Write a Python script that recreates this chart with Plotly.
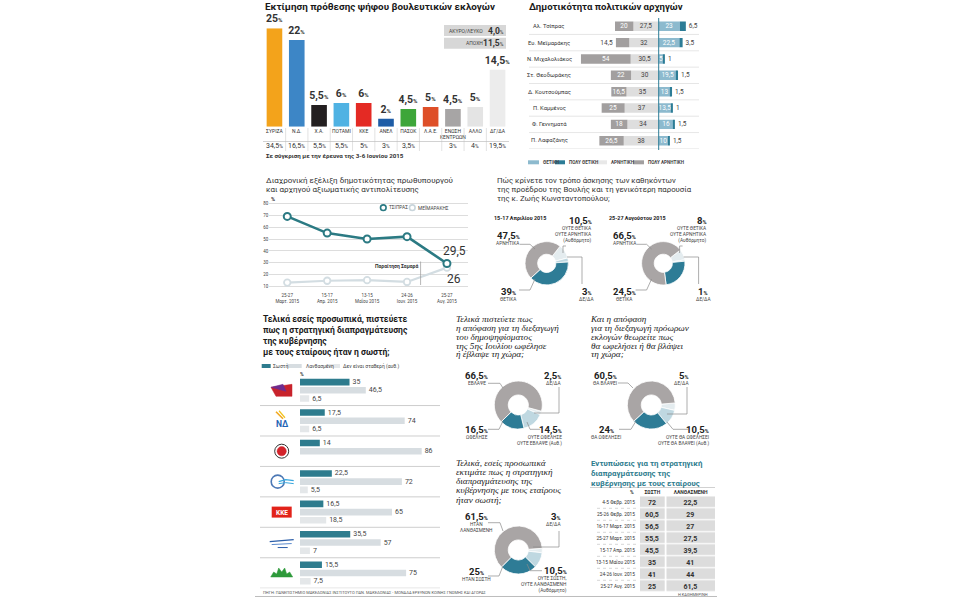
import plotly.graph_objects as go

W, H = 958, 598
def X(p): return p / W
def Y(p): return 1 - p / H

SANS = "Roboto, 'Liberation Sans', sans-serif"
SERIF = "'Liberation Serif', 'DejaVu Serif', serif"

# ---------------- DATA ----------------
vote_parties = ['ΣΥΡΙΖΑ', 'Ν.Δ.', 'Χ.Α.', 'ΠΟΤΑΜΙ', 'ΚΚΕ', 'ΑΝΕΛ', 'ΠΑΣΟΚ', 'Λ.Α.Ε.',
                'ΕΝΩΣΗ<br>ΚΕΝΤΡΩΩΝ', 'ΑΛΛΟ', 'ΔΓ/ΔΑ']
vote_now = [25, 22, 5.5, 6, 6, 2, 4.5, 5, 4.5, 5, 14.5]
vote_june = [34.5, 16.5, 5.5, 5.5, 5, 3, 3.5, None, 3, 4, 19.5]
box_labels = ['ΑΚΥΡΟ/ΛΕΥΚΟ', 'ΑΠΟΧΗ']
box_values = [4.0, 11.5]

leaders = ['Αλ. Τσίπρας', 'Ευ. Μεϊμαράκης', 'Ν. Μιχαλολιάκος', 'Στ. Θεοδωράκης',
           'Δ. Κουτσούμπας', 'Π. Καμμένος', 'Φ. Γεννηματά', 'Π. Λαφαζάνης']
lead_very_neg = [20, 14.5, 54, 22, 16.5, 25, 18, 26.5]
lead_neg = [27.5, 32, 30.5, 30, 35, 37, 34, 38]
lead_pos = [23, 22.5, 5, 19.5, 13, 13.5, 16, 10]
lead_very_pos = [6.5, 3.5, 1, 1.5, 1.5, 1, 1.5, 1.5]
lead_series = ['ΘΕΤΙΚΗ', 'ΠΟΛΥ ΘΕΤΙΚΗ', 'ΑΡΝΗΤΙΚΗ', 'ΠΟΛΥ ΑΡΝΗΤΙΚΗ']

trend_dates = ['25-27<br>Μαρτ. 2015', '15-17<br>Απρ. 2015', '13-15<br>Μαΐου 2015',
               '24-26<br>Ιουν. 2015', '25-27<br>Αυγ. 2015']
trend_tsipras = [69, 55, 50, 52, 29.5]
trend_meimarakis = [13.5, 15, 15.5, 14, 26]
trend_names = ['ΤΣΙΠΡΑΣ', 'ΜΕΪΜΑΡΑΚΗΣ']

zk_labels = ['ΟΥΤΕ ΘΕΤΙΚΑ<br>ΟΥΤΕ ΑΡΝΗΤΙΚΑ<br>(Αυθόρμητο)', 'ΔΕ/ΔΑ', 'ΘΕΤΙΚΑ', 'ΑΡΝΗΤΙΚΑ']
zk_april = [10.5, 3, 39, 47.5]
zk_august = [8, 1, 24.5, 66.5]

strat_parties = ['ΣΥΡΙΖΑ', 'ΝΔ', 'Χ.Α.', 'ΠΟΤΑΜΙ', 'ΚΚΕ', 'ΑΝΕΛ', 'ΠΑΣΟΚ']
strat_series = ['Σωστή', 'Λανθασμένη', 'Δεν είναι σταθερή (αυθ.)']
strat_right = [35, 17.5, 14, 22.5, 16.5, 35.5, 15.5]
strat_wrong = [46.5, 74, 86, 72, 65, 57, 75]
strat_unclear = [6.5, 6.5, None, 5.5, 18.5, 7, 7.5]

ref_labels = ['ΔΕ/ΔΑ', 'ΟΥΤΕ ΩΦΕΛΗΣΕ<br>ΟΥΤΕ ΕΒΛΑΨΕ (Αυθ.)', 'ΩΦΕΛΗΣΕ', 'ΕΒΛΑΨΕ']
ref_values = [2.5, 14.5, 16.5, 66.5]
elec_labels = ['ΔΕ/ΔΑ', 'ΟΥΤΕ ΘΑ ΩΦΕΛΗΣΕΙ<br>ΟΥΤΕ ΘΑ ΒΛΑΨΕΙ (Αυθ.)', 'ΘΑ ΩΦΕΛΗΣΕΙ', 'ΘΑ ΒΛΑΨΕΙ']
elec_values = [5, 10.5, 24, 60.5]
negot_labels = ['ΔΕ/ΔΑ', 'ΟΥΤΕ ΣΩΣΤΗ,<br>ΟΥΤΕ ΛΑΝΘΑΣΜΕΝΗ<br>(Αυθόρμητο)', 'ΗΤΑΝ ΣΩΣΤΗ', 'ΗΤΑΝ<br>ΛΑΝΘΑΣΜΕΝΗ']
negot_values = [3, 10.5, 25, 61.5]

table_header = ['%', 'ΣΩΣΤΗ', 'ΛΑΝΘΑΣΜΕΝΗ']
table_dates = ['4-5 Φεβρ. 2015', '25-26 Φεβρ. 2015', '16-17 Μαρτ. 2015', '25-27 Μαρτ. 2015',
               '15-17 Απρ. 2015', '13-15 Μαΐου 2015', '24-26 Ιουν. 2015', '25-27 Αυγ. 2015']
table_right = [72, 60.5, 56.5, 55.5, 45.5, 35, 41, 25]
table_wrong = [22.5, 29, 27, 27.5, 39.5, 41, 44, 61.5]

# ---------------- STYLE ----------------
vote_colors = ['#F3A31B', '#3D86C6', '#231F20', '#4FB2E3', '#E42A24', '#1E5DA6',
               '#3DA639', '#DE4F28', '#A7A5A5', '#E4E4E4', '#ECECEC']
C_POS, C_VPOS, C_NEG, C_VNEG = '#8DBACE', '#2C7C96', '#DEDEDE', '#A29F9F'
TEAL = '#2E7C8E'
PIE_COLORS = ['#E4ECEF', '#BFD8E1', '#2E7C96', '#A9A5A5']   # ΔΕ, ούτε, θετ, αρνητ

def fmt(v):
    return ('%g' % v).replace('.', ',')

def pct(v, small=6):
    return f'<b>{fmt(v)}<span style="font-size:{small}px">%</span></b>'

annotations, shapes = [], []

def txt(x, y, s, size=7, color='#333', anchor='left', yanchor='middle', family=SANS,
        xref='paper', yref='paper'):
    annotations.append(dict(
        x=X(x) if xref == 'paper' else x, y=Y(y) if yref == 'paper' else y,
        xref=xref, yref=yref, text=s, showarrow=False, xanchor=anchor, yanchor=yanchor,
        align=anchor if anchor in ('left', 'right') else 'center',
        font=dict(size=size, color=color, family=family), borderpad=0))

def block(x, y_first, lines, glyph, spacing, color='#222', family=SANS, bold=False,
          italic=False, anchor='left'):
    """Multi-line text with tight line spacing (line height comes from the base size)."""
    parts = []
    for l in lines:
        if bold:
            l = f'<b>{l}</b>'
        if italic:
            l = f'<i>{l}</i>'
        parts.append(f'<span style="font-size:{glyph}px">{l}</span>')
    yc = y_first + spacing * (len(lines) - 1) / 2
    txt(x, yc, '<br>'.join(parts), size=spacing / 1.3, color=color, anchor=anchor, family=family)

def pline(pts, color='#8A8A8A', width=0.7, dash=None):
    path = 'M ' + ' L '.join(f'{X(a):.5f},{Y(b):.5f}' for a, b in pts)
    shapes.append(dict(type='path', path=path, xref='paper', yref='paper',
                       line=dict(color=color, width=width, dash=dash)))

def rect(x0, y0, x1, y1, fill, lc=None, lw=0):
    shapes.append(dict(type='rect', xref='paper', yref='paper', x0=X(x0), x1=X(x1),
                       y0=Y(y1), y1=Y(y0), fillcolor=fill,
                       line=dict(width=lw, color=lc or fill)))

def circ(cx, cy, r, fill, lc, lw):
    shapes.append(dict(type='circle', xref='paper', yref='paper', x0=X(cx - r), x1=X(cx + r),
                       y0=Y(cy + r), y1=Y(cy - r), fillcolor=fill,
                       line=dict(color=lc, width=lw)))

fig = go.Figure()

# =============== 1. Vote intention bars ===============
fig.add_trace(go.Bar(
    x=vote_parties, y=vote_now, marker=dict(color=vote_colors, line=dict(width=0)),
    width=0.7, text=[pct(v, 6) for v in vote_now], textposition='outside',
    textfont=dict(size=10.5, color='#333', family=SANS), cliponaxis=False,
    constraintext='none', xaxis='x', yaxis='y', showlegend=False, hoverinfo='x+y'))
txt(264, 6.5, '<b>Εκτίμηση πρόθεσης ψήφου βουλευτικών εκλογών</b>', size=9.9, color='#1a1a1a')
for i, (lab, val) in enumerate(zip(box_labels, box_values)):
    y0 = 25 + i * 12.7
    rect(444, y0, 506, y0 + 11, '#D7D7D7')
    txt(484, y0 + 5.5, lab, size=5, color='#444', anchor='right')
    txt(505, y0 + 5.5, f'<b>{("%.1f" % val).replace(".", ",")}</b><span style="font-size:5px">%</span>',
        size=8.5, color='#333', anchor='right')
for i, v in enumerate(vote_june):
    if v is not None:
        txt(vote_parties[i], 146, f'{fmt(v)}<span style="font-size:5px">%</span>', size=7,
            color='#333', anchor='center', xref='x')
for i in range(len(vote_parties) - 1):
    shapes.append(dict(type='line', xref='x', yref='paper', x0=i + 0.5, x1=i + 0.5,
                       y0=Y(151), y1=Y(128), line=dict(color='#CFCFCF', width=0.6)))
pline([(263, 141.5), (509, 141.5)], color='#BDBDBD', width=0.7)
txt(265, 155.5, '<b>Σε σύγκριση με την έρευνα της 3-6 Ιουνίου 2015</b>', size=6.2, color='#333')

# =============== 2. Leaders diverging bars ===============
common = dict(y=leaders, orientation='h', xaxis='x2', yaxis='y2', width=0.58, offsetgroup='L',
              showlegend=False, constraintext='none', textangle=0, cliponaxis=False,
              insidetextanchor='middle')
fig.add_trace(go.Bar(x=[-v for v in lead_neg], base=0, name=lead_series[2],
                     marker=dict(color=C_NEG, line=dict(width=0)),
                     text=[fmt(v) for v in lead_neg], textposition='inside',
                     insidetextfont=dict(size=6.5, color='#444', family=SANS), **common))
fig.add_trace(go.Bar(x=[-v for v in lead_very_neg], base=[-v for v in lead_neg],
                     name=lead_series[3], marker=dict(color=C_VNEG, line=dict(width=0)),
                     text=[fmt(v) for v in lead_very_neg],
                     textposition=['outside' if v < 16 else 'inside' for v in lead_very_neg],
                     insidetextfont=dict(size=6.5, color='white', family=SANS),
                     outsidetextfont=dict(size=6.5, color='#444', family=SANS), **common))
fig.add_trace(go.Bar(x=lead_pos, base=0, name=lead_series[0],
                     marker=dict(color=C_POS, line=dict(width=0)),
                     text=[fmt(v) for v in lead_pos], textposition='inside',
                     insidetextfont=dict(size=6.5, color='white', family=SANS), **common))
fig.add_trace(go.Bar(x=lead_very_pos, base=lead_pos, name=lead_series[1],
                     marker=dict(color=C_VPOS, line=dict(width=0)),
                     text=[fmt(v) for v in lead_very_pos], textposition='outside',
                     outsidetextfont=dict(size=6.5, color='#444', family=SANS), **common))
txt(528, 6.5, '<b>Δημοτικότητα πολιτικών αρχηγών</b>', size=9.6, color='#1a1a1a')
for name in leaders:
    txt(549, name, name, size=5.8, color='#333', anchor='center', yref='y2')
for i in range(len(leaders)):
    shapes.append(dict(type='line', xref='paper', yref='y2', x0=X(529), x1=X(699),
                       y0=i + 0.5, y1=i + 0.5, line=dict(color='#D5D5D5', width=0.6),
                       layer='below'))
shapes.append(dict(type='line', xref='x2', yref='paper', x0=0, x1=0, y0=Y(150), y1=Y(18),
                   line=dict(color=C_VPOS, width=1)))
leg = [(528, 539, C_POS, lead_series[0]), (555, 565, C_VPOS, lead_series[1]),
       (595, 607, '#E8E8E8', lead_series[2]), (633, 644, C_VNEG, lead_series[3])]
for x0, x1, c, lab in leg:
    rect(x0, 160.3, x1, 164.3, c)
    txt(x1 + 2.5, 162.3, f'<b>{lab}</b>', size=4.6, color='#444')

# =============== 3. Trend line ===============
fig.add_trace(go.Scatter(x=trend_dates, y=trend_meimarakis, mode='lines+markers',
                         name=trend_names[1], xaxis='x3', yaxis='y3', showlegend=False,
                         line=dict(color='#D3DDE2', width=2.2),
                         marker=dict(size=6.5, color='white', line=dict(color='#D3DDE2', width=1.8)),
                         cliponaxis=False))
fig.add_trace(go.Scatter(x=trend_dates, y=trend_tsipras, mode='lines+markers',
                         name=trend_names[0], xaxis='x3', yaxis='y3', showlegend=False,
                         line=dict(color='#2B7A83', width=2.6),
                         marker=dict(size=7, color='white', line=dict(color='#2B7A83', width=2)),
                         cliponaxis=False))
block(265, 181, ['Διαχρονική εξέλιξη δημοτικότητας πρωθυπουργού',
                 'και αρχηγού αξιωματικής αντιπολίτευσης'], 8, 9, color='#333')
txt(270, 198.5, '<b>%</b>', size=5.5, color='#333')
circ(383.3, 207.7, 2.8, 'white', '#2B7A83', 1.6)
txt(387.5, 207.7, trend_names[0], size=4.8, color='#444')
circ(412.3, 207.7, 2.8, 'white', '#C9D5DB', 1.6)
txt(416.5, 207.7, trend_names[1], size=4.8, color='#444')
annotations.append(dict(x=trend_dates[-1], y=trend_tsipras[-1], xref='x3', yref='y3',
                        text=fmt(trend_tsipras[-1]), showarrow=False, xshift=8, yshift=12,
                        font=dict(size=12, color='#333', family=SANS)))
annotations.append(dict(x=trend_dates[-1], y=trend_meimarakis[-1], xref='x3', yref='y3',
                        text=fmt(trend_meimarakis[-1]), showarrow=False, xshift=7, yshift=-11,
                        font=dict(size=12, color='#333', family=SANS)))
shapes.append(dict(type='line', xref='x3', yref='paper', x0=3.34, x1=3.34, y0=Y(285), y1=Y(261.5),
                   line=dict(color='#9A9A9A', width=0.7)))
txt(3.30, 265.5, '<b>Παραίτηση Σαμαρά</b>', size=5, color='#333', anchor='right', xref='x3')

# =============== 4. Zoe Konstantopoulou donuts ===============
def donut(values, labels, cx, cy, r, rot, hole=0.42):
    fig.add_trace(go.Pie(values=values, labels=labels, sort=False, direction='clockwise',
                         rotation=rot, hole=hole, textinfo='none', showlegend=False,
                         marker=dict(colors=PIE_COLORS, line=dict(color='white', width=0.8)),
                         domain=dict(x=[X(cx - r), X(cx + r)], y=[Y(cy + r), Y(cy - r)]),
                         hoverinfo='label+value'))

def plabel(x, y, v, lab, anchor='center', big=9.5):
    txt(x, y, pct(v, 5.5), size=big, color='#222', anchor=anchor)
    txt(x, y + 4.6, lab, size=4.8, color='#444', anchor=anchor, yanchor='top')

block(496, 180.5, ['Πώς κρίνετε τον τρόπο άσκησης των καθηκόντων',
                   'της προέδρου της Βουλής και τη γενικότερη παρουσία',
                   'της κ. Ζωής Κωνσταντοπούλου;'], 7.8, 9, color='#333')
txt(493, 217.7, '<b>15-17 Απριλίου 2015</b>', size=5.4, color='#222')
txt(608, 217.7, '<b>25-27 Αυγούστου 2015</b>', size=5.4, color='#222')
for k, (vals, cx, rot) in enumerate([(zk_april, 546.7, 38), (zk_august, 663.3, 52)]):
    donut(vals, zk_labels, cx, 263.3, 21.7, rot)
    dx = cx - 546.7
    plabel(508.3 + dx, 235.7, vals[3], zk_labels[3])
    plabel(593.3 + dx + (0 if k == 0 else -1.7), 220, vals[0], zk_labels[0], anchor='right')
    plabel(586.7 + dx, 291, vals[1], zk_labels[1])
    plabel(508.3 + dx, 291, vals[2], zk_labels[2])
    pline([(p + dx, q) for p, q in [(520, 244.3), (530, 244.3), (535, 249)]])
    pline([(p + dx, q) for p, q in [(563, 253), (563, 246), (566, 246)]])
    pline([(p + dx, q) for p, q in [(567, 257), (582, 257), (582, 284)]])
    pline([(p + dx, q) for p, q in [(519, 290), (530, 290), (535, 279)]])

# =============== 5. Negotiation strategy by party ===============
strat_colors = [TEAL, '#D7DDE1', '#E4E7E9']
for vals, name, col in zip([strat_right, strat_wrong, strat_unclear], strat_series, strat_colors):
    fig.add_trace(go.Bar(x=vals, y=strat_parties, orientation='h', name=name,
                         xaxis='x6', yaxis='y6', offsetgroup=name, showlegend=False,
                         marker=dict(color=col, line=dict(width=0)),
                         text=[fmt(v) if v is not None else '' for v in vals],
                         textposition='outside', cliponaxis=False, constraintext='none',
                         outsidetextfont=dict(size=7, color='#444', family=SANS)))
block(262, 319.3, ['Τελικά εσείς προσωπικά, πιστεύετε', 'πως η στρατηγική διαπραγμάτευσης',
                   'της κυβέρνησης', 'με τους εταίρους ήταν η σωστή;'],
      8.6, 11.1, color='#1a1a1a', bold=True)
rect(261.7, 364, 270.7, 368, TEAL)
txt(272.3, 366, strat_series[0], size=5, color='#444')
rect(286.7, 364, 301.7, 368, '#D7DDE1')
txt(305, 366, strat_series[1], size=5, color='#444')
rect(326.7, 364, 340, 368, '#E4E7E9')
txt(342.3, 366, strat_series[2], size=5, color='#444')
txt(299, 373.5, '<b>%</b>', size=5, color='#333')
for g in range(len(strat_parties)):
    shapes.append(dict(type='line', xref='paper', yref='y6', x0=X(260), x1=X(440),
                       y0=g + 0.5, y1=g + 0.5, line=dict(color='#B9B9B9', width=0.7)))
# simplified party emblems
cx = 281.7
cys = [390.3 + g * 30.45 for g in range(7)]
cy = cys[0]
pline([(271, cy - 3), (292, cy - 6), (292, cy + 6), (276, cy + 6), (271, cy - 3)], color='#C8232C', width=0.5)
shapes[-1].update(fillcolor='#C8232C')
pline([(271, cy - 3), (283, cy - 6), (286, cy + 1), (271, cy - 3)], color='#6E2C8F', width=0.5)
shapes[-1].update(fillcolor='#6E2C8F')
cy = cys[1]
pline([(276, cy - 9), (283, cy - 2)], color='#F2A81D', width=1.6)
pline([(279, cy - 10), (285, cy - 3)], color='#F2C31D', width=1.2)
txt(cx + 1, cy + 3, '<b>ΝΔ</b>', size=8.5, color='#1F64B4', anchor='center')
cy = cys[2]
circ(cx, cy, 7, 'white', '#333', 1.0)
circ(cx, cy, 4.6, '#D2232A', '#D2232A', 0.5)
cy = cys[3]
circ(cx - 4, cy, 6.5, 'rgba(0,0,0,0)', '#4C78B5', 1.6)
pline([(cx - 3, cy), (cx + 4, cy - 2), (cx + 12, cy - 1)], color='#38A7DE', width=1.4)
pline([(cx - 3, cy + 2), (cx + 4, cy + 1), (cx + 12, cy + 2)], color='#38A7DE', width=1.0)
cy = cys[4]
rect(cx - 10, cy - 5.5, cx + 10, cy + 5.5, '#E2231A')
txt(cx, cy + 0.5, '<b>ΚΚΕ</b>', size=6.5, color='white', anchor='center')
cy = cys[5]
pline([(cx - 12, cy - 1), (cx + 12, cy - 3)], color='#2A5DA8', width=1.2)
pline([(cx - 10, cy + 2), (cx + 10, cy + 1)], color='#5B8ACD', width=1.0)
pline([(cx - 4, cy + 5), (cx + 6, cy + 5)], color='#2A5DA8', width=1.0)
cy = cys[6]
pline([(cx - 11, cy + 4), (cx - 8, cy - 1), (cx - 5, cy + 1), (cx - 3, cy - 5), (cx, cy - 1),
       (cx + 3, cy - 5), (cx + 5, cy + 1), (cx + 8, cy - 1), (cx + 11, cy + 4), (cx - 11, cy + 4)],
      color='#2E9A3B', width=0.5)
shapes[-1].update(fillcolor='#2E9A3B')

# =============== 6. Bottom donuts ===============
block(455, 319, ['Τελικά πιστεύετε πως', 'η απόφαση για τη διεξαγωγή',
                 'του δημοψηφίσματος', 'της 5ης Ιουλίου ωφέλησε', 'ή έβλαψε τη χώρα;'],
      9.2, 8.85, color='#222', family=SERIF, italic=True)
donut(ref_values, ref_labels, 518.3, 405, 24, 105)
plabel(476.7, 375, ref_values[3], ref_labels[3])
plabel(561.7, 375, ref_values[0], ref_labels[0], anchor='right')
plabel(476.7, 429.3, ref_values[2], ref_labels[2])
plabel(563.3, 429.3, ref_values[1], ref_labels[1], anchor='right')
pline([(488, 383.3), (500, 383.3), (503, 388)])
pline([(559, 387), (559, 413), (534, 413)])
pline([(488, 429.3), (499, 429.3), (503, 421)])
pline([(540, 429.3), (530, 429.3), (527, 422)])

block(455, 463.3, ['Τελικά, εσείς προσωπικά', 'εκτιμάτε πως η στρατηγική',
                   'διαπραγμάτευσης της', 'κυβέρνησης με τους εταίρους', 'ήταν σωστή;'],
      9.2, 9.15, color='#222', family=SERIF, italic=True)
donut(negot_values, negot_labels, 518.3, 550, 24, 86)
plabel(476.7, 516, negot_values[3], negot_labels[3])
plabel(561.7, 516.7, negot_values[0], negot_labels[0], anchor='right')
plabel(476.7, 571.7, negot_values[2], negot_labels[2])
plabel(568.3, 570.7, negot_values[1], negot_labels[1], anchor='right')
pline([(488, 522.7), (500, 522.7), (503, 531)])
pline([(559, 531), (559, 547), (533, 547)])
pline([(488, 576), (499, 576), (503, 566)])
pline([(542, 570.7), (530, 570.7), (527, 564)])

block(589, 319, ['Και η απόφαση', 'για τη διεξαγωγή πρόωρων', 'εκλογών θεωρείτε πως',
                 'θα ωφελήσει ή θα βλάψει', 'τη χώρα;'],
      9.2, 8.85, color='#222', family=SERIF, italic=True)
donut(elec_values, elec_labels, 651.3, 405, 24, 85)
plabel(605, 375, elec_values[3], elec_labels[3])
plabel(689.7, 375, elec_values[0], elec_labels[0], anchor='right')
plabel(606, 429.3, elec_values[2], elec_labels[2])
plabel(709.7, 429.3, elec_values[1], elec_labels[1], anchor='right')
pline([(618, 383), (628, 383), (633, 388)])
pline([(687, 387), (687, 414), (667, 414)])
pline([(619, 429.3), (631, 429.3), (636, 421)])
pline([(688, 429.3), (673, 429.3), (667, 422)])

# =============== 7. Table (heatmap cells on category axes) ===============
block(590, 463, ['Εντυπώσεις για τη στρατηγική', 'διαπραγμάτευσης της',
                 'κυβέρνησης με τους εταίρους'], 7.9, 10, color=TEAL, bold=True)
flat_gray = [[0, '#DCDCDC'], [1, '#DCDCDC']]
for vals, col, xa in [(table_right, table_header[1], 'x7'), (table_wrong, table_header[2], 'x8')]:
    fig.add_trace(go.Heatmap(
        x=[col], y=table_dates, z=[[v] for v in vals],
        text=[[f'<b>{fmt(v)}</b>'] for v in vals], texttemplate='%{text}',
        textfont=dict(size=7, color='#333', family=SANS),
        colorscale=flat_gray, showscale=False, ygap=1.2, xgap=0,
        xaxis=xa, yaxis='y7', hoverinfo='y+z'))
txt(635, 492.3, f'<b>{table_header[0]}</b>', size=5, color='#333', anchor='right')
pline([(590, 487.5), (715, 487.5)], color='#BDBDBD', width=0.7)
for i in range(len(table_dates) - 1):
    shapes.append(dict(type='line', xref='paper', yref='y7', x0=X(597), x1=X(639),
                       y0=i + 0.5, y1=i + 0.5, line=dict(color='#BBBBBB', width=0.6, dash='dot')))

# =============== footer ===============
txt(262, 592.3, 'ΠΗΓΗ: ΠΑΝΕΠΙΣΤΗΜΙΟ ΜΑΚΕΔΟΝΙΑΣ ΙΝΣΤΙΤΟΥΤΟ ΠΑΝ. ΜΑΚΕΔΟΝΙΑΣ - ΜΟΝΑΔΑ ΕΡΕΥΝΩΝ ΚΟΙΝΗΣ ΓΝΩΜΗΣ ΚΑΙ ΑΓΟΡΑΣ',
    size=4, color='#555')
txt(709, 594.3, 'Η ΚΑΘΗΜΕΡΙΝΗ', size=4, color='#555', anchor='right')
pline([(255, 596.5), (717, 596.5)], color='#BDBDBD', width=1)

# =============== layout ===============
noax = dict(showgrid=False, zeroline=False, showline=False, ticks='', showticklabels=False)
head_ax = dict(side='top', showgrid=False, zeroline=False, showline=False, ticks='',
               tickfont=dict(size=5, color='#333', family=SANS, weight='bold'), anchor='y7')
fig.update_layout(
    width=W, height=H, margin=dict(l=0, r=0, t=0, b=0), autosize=False,
    paper_bgcolor='white', plot_bgcolor='white', template='none',
    barmode='group', bargap=0.19, bargroupgap=0.2, showlegend=False,
    font=dict(family=SANS, color='#333'),
    xaxis=dict(domain=[X(263.3), X(508.7)], range=[-0.5, 10.5], showgrid=False, zeroline=False,
               showline=False, ticks='', tickangle=0,
               tickfont=dict(size=5, color='#333', family=SANS), anchor='y'),
    yaxis=dict(domain=[Y(126.7), Y(28.3)], range=[0, 25], anchor='x', **noax),
    xaxis2=dict(domain=[X(575.9), X(704.7)], range=[-90, 50], anchor='y2', **noax),
    yaxis2=dict(domain=[Y(148.9), Y(18.1)], range=[7.5, -0.5], anchor='x2', **noax),
    xaxis3=dict(domain=[X(269.3), X(467.7)], range=[-0.45, 4.52], anchor='y3', showgrid=False,
                zeroline=False, showline=False, ticks='', tickangle=0,
                tickfont=dict(size=4.5, color='#444', family=SANS)),
    yaxis3=dict(domain=[Y(291.5), Y(200.9)], range=[6, 82], anchor='x3', tick0=10, dtick=10,
                showgrid=True, gridcolor='#DDDDDD', gridwidth=0.6, zeroline=False, showline=False,
                ticks='', tickfont=dict(size=4.5, color='#444', family=SANS)),
    xaxis6=dict(domain=[X(300), X(441.5)], range=[0, 100], anchor='y6', **noax),
    yaxis6=dict(domain=[Y(588.2), Y(375.1)], range=[6.5, -0.5], anchor='x6', **noax),
    xaxis7=dict(domain=[X(640), X(664.7)], **head_ax),
    xaxis8=dict(domain=[X(666.3), X(715)], **head_ax),
    yaxis7=dict(domain=[Y(592.3), Y(496.3)], range=[7.5, -0.5], anchor='x7', type='category',
                categoryarray=table_dates, showgrid=False, zeroline=False, showline=False,
                ticks='', ticklabelstandoff=4, tickfont=dict(size=4.8, color='#333', family=SANS)),
    annotations=annotations, shapes=shapes,
)
fig.write_html('out.html', config={'displayModeBar': False},
               post_script="document.body.style.margin='0px';")
